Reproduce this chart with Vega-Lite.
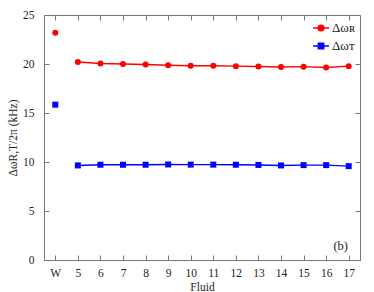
{
  "$schema": "https://vega.github.io/schema/vega-lite/v6.json",
  "width": 316,
  "height": 245,
  "autosize": "none",
  "padding": {"left": 44, "top": 15, "right": 14, "bottom": 32},
  "background": "white",
  "config": {
    "font": "Liberation Serif",
    "view": {"stroke": "#777", "strokeWidth": 1},
    "axis": {
      "domainColor": "#777",
      "tickColor": "#777",
      "labelColor": "#222",
      "titleColor": "#222",
      "labelFont": "Liberation Serif",
      "titleFont": "Liberation Serif",
      "labelFontSize": 11.5,
      "titleFontSize": 11.5,
      "titleFontWeight": "normal",
      "grid": false,
      "tickSize": -5
    }
  },
  "datasets": {
    "points": [
      {"fluid": "W", "series": "R", "value": 23.2},
      {"fluid": "5", "series": "R", "value": 20.2},
      {"fluid": "6", "series": "R", "value": 20.05},
      {"fluid": "7", "series": "R", "value": 20.0},
      {"fluid": "8", "series": "R", "value": 19.95},
      {"fluid": "9", "series": "R", "value": 19.87},
      {"fluid": "10", "series": "R", "value": 19.82},
      {"fluid": "11", "series": "R", "value": 19.82},
      {"fluid": "12", "series": "R", "value": 19.78},
      {"fluid": "13", "series": "R", "value": 19.75},
      {"fluid": "14", "series": "R", "value": 19.7},
      {"fluid": "15", "series": "R", "value": 19.73},
      {"fluid": "16", "series": "R", "value": 19.65},
      {"fluid": "17", "series": "R", "value": 19.78},
      {"fluid": "W", "series": "T", "value": 15.85},
      {"fluid": "5", "series": "T", "value": 9.65},
      {"fluid": "6", "series": "T", "value": 9.72},
      {"fluid": "7", "series": "T", "value": 9.72},
      {"fluid": "8", "series": "T", "value": 9.72},
      {"fluid": "9", "series": "T", "value": 9.75},
      {"fluid": "10", "series": "T", "value": 9.73},
      {"fluid": "11", "series": "T", "value": 9.73},
      {"fluid": "12", "series": "T", "value": 9.72},
      {"fluid": "13", "series": "T", "value": 9.7},
      {"fluid": "14", "series": "T", "value": 9.65},
      {"fluid": "15", "series": "T", "value": 9.68},
      {"fluid": "16", "series": "T", "value": 9.68},
      {"fluid": "17", "series": "T", "value": 9.58}
    ],
    "panel": [
      {"label": "(b)"}
    ]
  },
  "layer": [
    {
      "data": {"name": "points"},
      "transform": [{"filter": "datum.fluid !== 'W'"}],
      "mark": {"type": "line", "strokeWidth": 1.4},
      "encoding": {
        "x": {
          "field": "fluid", "type": "ordinal",
          "scale": {"type": "point", "padding": 0.5, "domain": ["W","5","6","7","8","9","10","11","12","13","14","15","16","17"]},
          "axis": {"orient": "bottom", "title": "Fluid", "labelAngle": 0, "labelPadding": 12, "titlePadding": 3}
        },
        "y": {
          "field": "value", "type": "quantitative",
          "scale": {"domain": [0, 25], "nice": false},
          "axis": {"orient": "left", "values": [0,5,10,15,20,25], "title": "ΔωR,T/2π (kHz)", "labelPadding": 15, "titlePadding": 4}
        },
        "color": {
          "field": "series", "type": "nominal",
          "scale": {"domain": ["R", "T"], "range": ["#ff0000", "#0000ff"]},
          "legend": {
            "orient": "top-right",
            "title": null,
            "offset": 4,
            "symbolSize": 256,
            "symbolStrokeWidth": 1.4,
            "labelFontSize": 13,
            "labelFont": "Liberation Serif",
            "labelColor": "#222",
            "labelOffset": 2,
            "rowPadding": 2,
            "labelExpr": "datum.value === 'R' ? 'Δωʀ' : 'Δωᴛ'",
            "encode": {
              "symbols": {
                "update": {
                  "shape": {"signal": "datum.value === 'R' ? 'M-1,0L1,0M0.36,0A0.36,0.36,0,1,1,-0.36,0A0.36,0.36,0,1,1,0.36,0Z' : 'M-1,0L1,0M-0.34,-0.34L0.34,-0.34L0.34,0.34L-0.34,0.34Z'"},
                  "fill": {"signal": "datum.value === 'R' ? '#ff0000' : '#0000ff'"},
                  "stroke": {"signal": "datum.value === 'R' ? '#ff0000' : '#0000ff'"},
                  "fillOpacity": {"value": 1},
                  "strokeWidth": {"value": 1.4}
                }
              }
            }
          }
        },
        "detail": {"field": "series"}
      }
    },
    {
      "data": {"name": "points"},
      "mark": {"type": "point", "filled": true, "size": 36, "opacity": 1},
      "encoding": {
        "x": {
          "field": "fluid", "type": "ordinal",
          "scale": {"type": "point", "padding": 0.5, "domain": ["W","5","6","7","8","9","10","11","12","13","14","15","16","17"]},
          "axis": {"orient": "top", "labels": false, "title": null, "domain": false}
        },
        "y": {
          "field": "value", "type": "quantitative",
          "scale": {"domain": [0, 25], "nice": false},
          "axis": {"orient": "right", "labels": false, "title": null, "values": [0,5,10,15,20,25], "domain": false}
        },
        "shape": {
          "condition": {"test": "datum.series === 'R'", "value": "circle"},
          "value": "square"
        },
        "color": {
          "field": "series", "type": "nominal",
          "scale": {"domain": ["R", "T"], "range": ["#ff0000", "#0000ff"]}
        }
      }
    },
    {
      "data": {"name": "panel"},
      "mark": {"type": "text", "fontSize": 12.5, "fontWeight": "normal", "font": "Liberation Serif", "color": "#222", "align": "center", "baseline": "middle", "dx": -8, "dy": 1},
      "encoding": {
        "text": {"field": "label"},
        "x": {"datum": "17", "type": "ordinal", "axis": null},
        "y": {"datum": 1.5, "type": "quantitative", "axis": null}
      }
    }
  ],
  "resolve": {"axis": {"x": "independent", "y": "independent"}}
}
